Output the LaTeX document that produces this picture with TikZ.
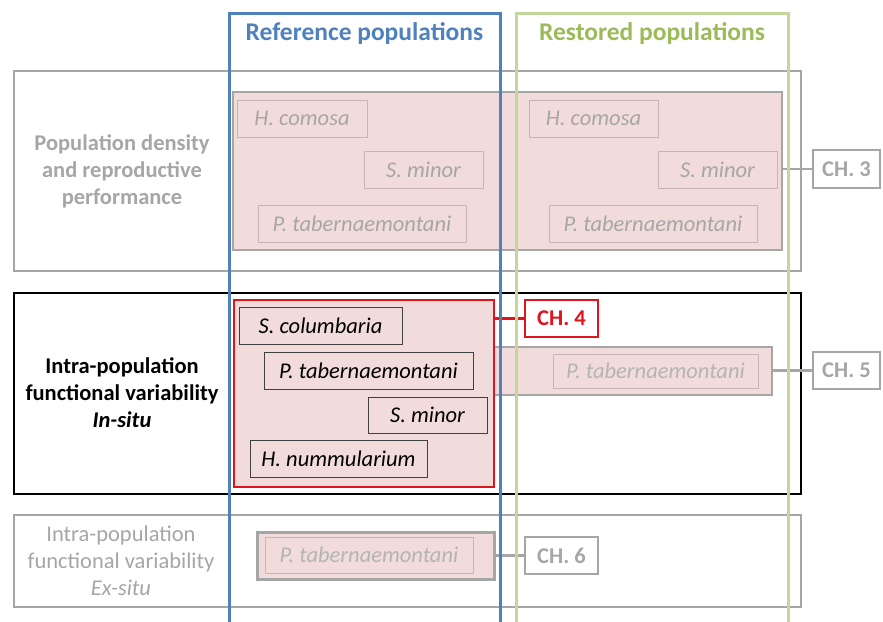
\documentclass[tikz,border=0pt]{standalone}
\usepackage{fontspec}
\setmainfont{Carlito}
\definecolor{refblue}{HTML}{4F81BD}
\definecolor{resgreen}{HTML}{C3D69B}
\definecolor{resgreentext}{HTML}{9BBB59}
\definecolor{midgray}{HTML}{A6A6A6}
\definecolor{lightgray}{HTML}{B4B4B4}
\definecolor{pinkfill}{HTML}{F2DCDB}
\definecolor{pinkline}{HTML}{C9B3B3}
\definecolor{chred}{HTML}{E0141C}
\begin{document}
\begin{tikzpicture}[x=1pt,y=-1pt,
  node font=\fontsize{22.5}{27}\selectfont,
  every node/.style={rectangle, inner sep=0pt, outer sep=0pt},
  rowbox/.style={draw=midgray, line width=2.5pt},
  rowlabel/.style={align=center, text=midgray},
  groupbox/.style={draw=midgray, fill=pinkfill, line width=2.5pt},
  faintsp/.style={draw=pinkline, line width=0.9pt, font=\itshape, text=midgray},
  palesp/.style={draw=pinkline, line width=0.9pt, font=\itshape, text=lightgray},
  darksp/.style={draw=black!75, line width=1pt, font=\itshape, text=black},
  chbox/.style={draw=midgray, fill=white, line width=2.5pt, font=\bfseries, text=midgray},
  link/.style={draw=midgray, line width=2.5pt},
  coltitle/.style={font=\fontsize{25.5}{30}\selectfont\bfseries}
]
\useasboundingbox (0,0) rectangle (883,621);
\fill[white] (0,0) rectangle (883,621);

% ---- row frames ----
\node[rowbox, minimum width=787, minimum height=200] (row1) at (407.5,171) {};
\node[rowbox, draw=black, minimum width=787, minimum height=201] (row2) at (407.5,393.5) {};
\node[rowbox, minimum width=787, minimum height=92] (row3) at (407.5,561) {};

% ---- row labels ----
\node[rowlabel, font=\bfseries] (lab1) at (122,171) {Population density\\and reproductive\\performance};
\node[rowlabel, font=\bfseries, text=black] (lab2) at (122,393) {Intra-population\\functional variability\\\textit{In-situ}};
\node[rowlabel] (lab3) at (121,561) {Intra-population\\functional variability\\\textit{Ex-situ}};

% ---- row 1: density and reproduction ----
\node[groupbox, minimum width=549, minimum height=158] (g1) at (507.5,171) {};
\node[faintsp, minimum width=130, minimum height=37] (r1hc) at (302,118.5) {H. comosa};
\node[faintsp, minimum width=119, minimum height=37] (r1sm) at (423.5,169.5) {S. minor};
\node[faintsp, minimum width=208, minimum height=37] (r1pt) at (362,223.5) {P. tabernaemontani};
\node[faintsp, minimum width=129, minimum height=37] (s1hc) at (593.5,118.5) {H. comosa};
\node[faintsp, minimum width=119, minimum height=37] (s1sm) at (717.5,169.5) {S. minor};
\node[faintsp, minimum width=208, minimum height=37] (s1pt) at (653,223.5) {P. tabernaemontani};
\node[chbox, minimum width=67, minimum height=38] (ch3) at (846.5,169) {CH. 3};
\draw[link] (ch3.west) -- (ch3.west -| g1.east);

% ---- row 2: in-situ variability ----
\node[groupbox, minimum width=282, minimum height=48] (g2b) at (631,371) {};
\node[palesp, minimum width=205, minimum height=34] (s2pt) at (655.5,371) {P. tabernaemontani};
\node[groupbox, draw=chred, minimum width=260, minimum height=187] (g2a) at (364,393.5) {};
\node[darksp, minimum width=163, minimum height=37] (r2sc) at (320.5,325.5) {S. columbaria};
\node[darksp, minimum width=209, minimum height=37] (r2pt) at (368.5,370.5) {P. tabernaemontani};
\node[darksp, minimum width=119, minimum height=36] (r2sm) at (427.5,415) {S. minor};
\node[darksp, minimum width=177, minimum height=37] (r2hn) at (338.5,458.5) {H. nummularium};
\node[chbox, draw=chred, text=chred, minimum width=73, minimum height=37] (ch4) at (561.5,318.5) {CH. 4};
\node[chbox, minimum width=67, minimum height=37] (ch5) at (846.5,370.5) {CH. 5};
\draw[link, draw=chred] (ch4.west) -- (ch4.west -| g2a.east);
\draw[link] (ch5.west) -- (ch5.west -| g2b.east);

% ---- row 3: ex-situ variability ----
\node[groupbox, line width=3pt, minimum width=237, minimum height=47] (g3) at (375.5,555.5) {};
\node[palesp, minimum width=208, minimum height=36] (r3pt) at (369,555) {P. tabernaemontani};
\node[chbox, minimum width=73, minimum height=37] (ch6) at (561.5,555.5) {CH. 6};
\draw[link] (ch6.west) -- (ch6.west -| g3.east);

% ---- population columns ----
\draw[refblue, line width=3pt] (229,625) -- (229,13) -- (500,13) -- (500,625);
\draw[resgreen, line width=3pt] (516.5,625) -- (516.5,13) -- (788.5,13) -- (788.5,625);
\node[coltitle, text=refblue] (reftitle) at (364.5,34) {Reference populations};
\node[coltitle, text=resgreentext] (restitle) at (652,34) {Restored populations};
\end{tikzpicture}
\end{document}
